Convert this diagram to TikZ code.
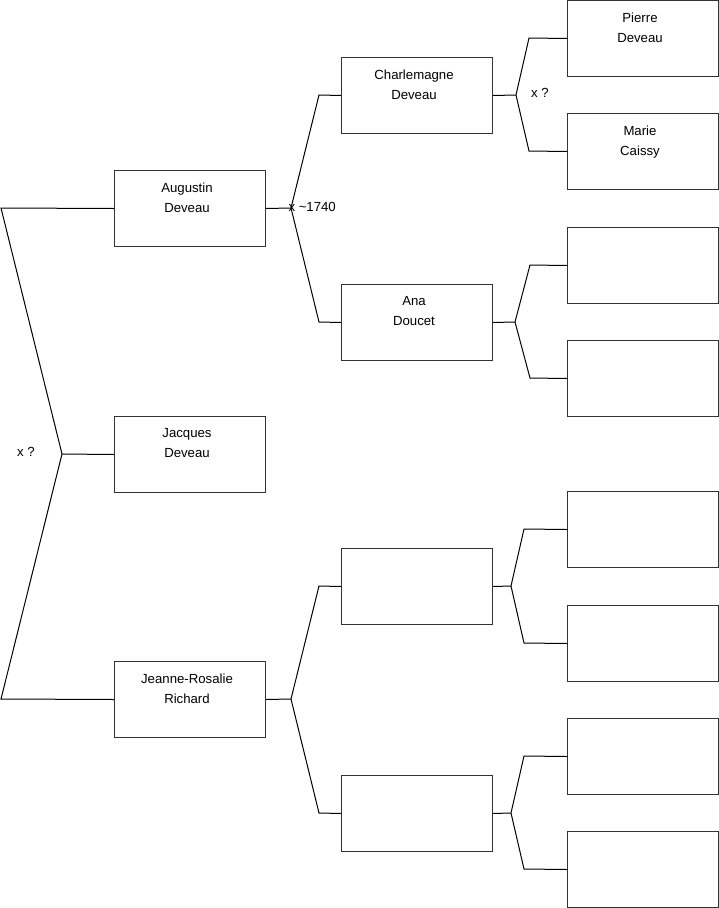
\documentclass[tikz,border=0pt]{standalone}
\usepackage{fontspec}
\setmainfont{Liberation Sans}
\usepackage{tikz}
\usetikzlibrary{positioning}

\begin{document}
\begin{tikzpicture}[
  x=1pt, y=-1pt,
  line width=1pt,
  person/.style={draw=black!80, anchor=north west, minimum width=151pt, minimum height=76pt,
    inner sep=0pt},
  pname/.style={anchor=north, align=center, inner sep=0pt, xshift=-3pt, yshift=-12pt,
    font=\fontsize{13.2}{20}\selectfont},
  wedlock/.style={inner sep=0pt, font=\fontsize{13.2}{15}\selectfont},
  link/.style={draw=black}
]
  \useasboundingbox (0,0) rectangle (719,908);

  % generation 1
  \node[person] (aug) at (114,170) {};
  \node[pname] (aug-n) at (aug.north) {Augustin\\Deveau};
  \node[person] (jac) at (114,416) {};
  \node[pname] (jac-n) at (jac.north) {Jacques\\Deveau};
  \node[person] (jr) at (114,661) {};
  \node[pname] (jr-n) at (jr.north) {Jeanne-Rosalie\\Richard};

  % generation 2
  \node[person] (cha) at (341,57) {};
  \node[pname] (cha-n) at (cha.north) {Charlemagne\\Deveau};
  \node[person] (ana) at (341,284) {};
  \node[pname] (ana-n) at (ana.north) {Ana\\Doucet};
  \node[person] (jrf) at (341,548) {};
  \node[person] (jrm) at (341,775) {};

  % generation 3
  \node[person] (pie) at (567,0) {};
  \node[pname] (pie-n) at (pie.north) {Pierre\\Deveau};
  \node[person] (mar) at (567,113) {};
  \node[pname] (mar-n) at (mar.north) {Marie\\Caissy};
  \node[person] (anaf) at (567,227) {};
  \node[person] (anam) at (567,340) {};
  \node[person] (jrff) at (567,491) {};
  \node[person] (jrfm) at (567,605) {};
  \node[person] (jrmf) at (567,718) {};
  \node[person] (jrmm) at (567,831) {};

  % forks
  \coordinate (f0) at (62,454);
  \coordinate (f0a) at (1,208);
  \coordinate (f0b) at (1,699);
  \coordinate (f1) at (291,208);
  \coordinate (f1a) at (319,95);
  \coordinate (f1b) at (319,322);
  \coordinate (f2) at (291,699);
  \coordinate (f2a) at (319,586);
  \coordinate (f2b) at (319,813);
  \coordinate (f3) at (516,95);
  \coordinate (f3a) at (529,38);
  \coordinate (f3b) at (529,151);
  \coordinate (f4) at (515,322);
  \coordinate (f4a) at (530,265);
  \coordinate (f4b) at (530,378);
  \coordinate (f5) at (511,586);
  \coordinate (f5a) at (524,529);
  \coordinate (f5b) at (524,643);
  \coordinate (f6) at (511,813);
  \coordinate (f6a) at (524,756);
  \coordinate (f6b) at (524,869);

  \draw[link] (aug.west) -- (f0a) -- (f0) -- (f0b) -- (jr.west);
  \draw[link] (f0) -- (jac.west);
  \draw[link] (aug.east) -- (f1);
  \draw[link] (cha.west) -- (f1a) -- (f1) -- (f1b) -- (ana.west);
  \draw[link] (jr.east) -- (f2);
  \draw[link] (jrf.west) -- (f2a) -- (f2) -- (f2b) -- (jrm.west);
  \draw[link] (cha.east) -- (f3);
  \draw[link] (pie.west) -- (f3a) -- (f3) -- (f3b) -- (mar.west);
  \draw[link] (ana.east) -- (f4);
  \draw[link] (anaf.west) -- (f4a) -- (f4) -- (f4b) -- (anam.west);
  \draw[link] (jrf.east) -- (f5);
  \draw[link] (jrff.west) -- (f5a) -- (f5) -- (f5b) -- (jrfm.west);
  \draw[link] (jrm.east) -- (f6);
  \draw[link] (jrmf.west) -- (f6a) -- (f6) -- (f6b) -- (jrmm.west);

  % marriages
  \node[wedlock] (m0) at (26,452) {x ?};
  \node[wedlock, anchor=west] (m1) at (288,207) {x \textasciitilde1740};
  \node[wedlock] (m3) at (540,93) {x ?};
\end{tikzpicture}
\end{document}
